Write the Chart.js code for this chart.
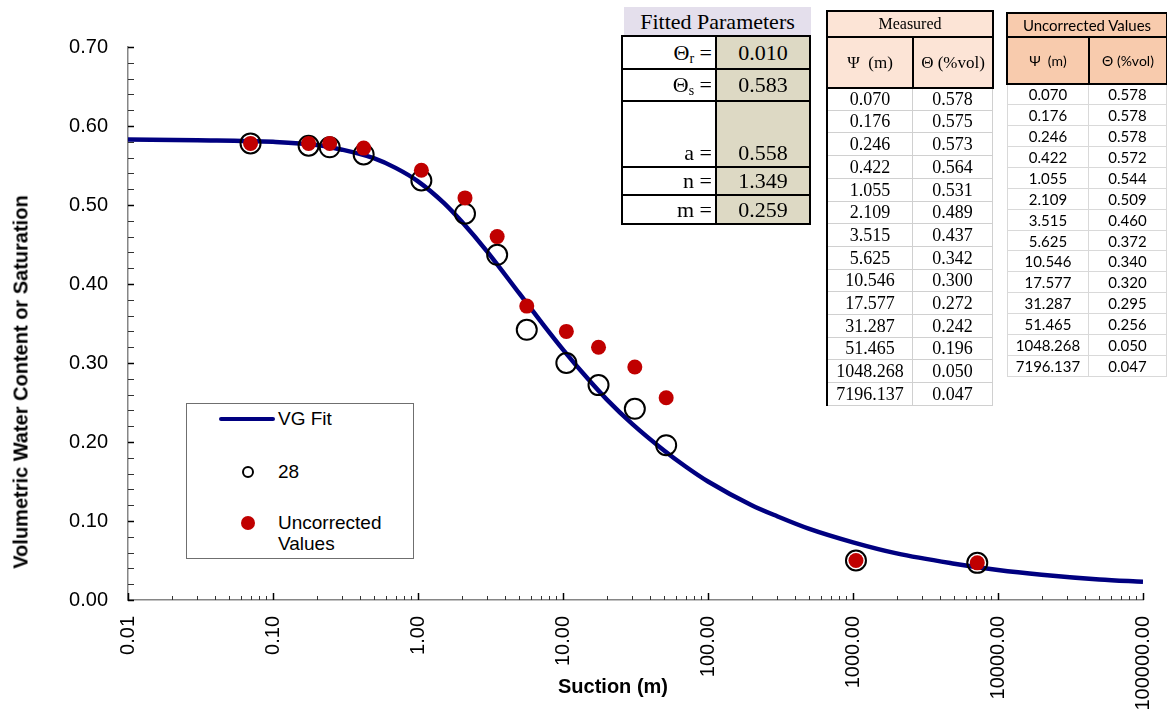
<!DOCTYPE html>
<html>
<head>
<meta charset="utf-8">
<script src="https://cdn.jsdelivr.net/npm/chart.js@4.4.1/dist/chart.umd.min.js"></script>
<style>
  html, body { margin: 0; padding: 0; background: #fff; }
  #wrap { position: relative; width: 1167px; height: 713px; overflow: hidden; }
  #chart { position: absolute; left: 0; top: 0; }
  .ttl { position: absolute; font: bold 20px "Liberation Sans", Arial, sans-serif; color: #000; white-space: nowrap; }
  #yTitle { left: 21px; top: 382px; transform: translate(-50%, -50%) rotate(-90deg); }
  #xTitle { left: 613px; top: 686px; transform: translate(-50%, -50%); }
  #legend { position: absolute; left: 186px; top: 403px; width: 228px; height: 156px; border: 1px solid #6f6f6f;
            background: #fff; box-sizing: border-box; font: 19px "Liberation Sans", Arial, sans-serif; color: #000; }
  #legend .txt { position: absolute; left: 91px; transform: translateY(-50%); line-height: 20px; white-space: nowrap; }
  .cell { position: absolute; box-sizing: border-box; display: flex; align-items: center; justify-content: center;
          white-space: nowrap; color: #000; overflow: hidden; }
  .cell sub { font-size: 14px; vertical-align: -3px; line-height: 0; }
</style>
</head>
<body>
<div id="wrap">
  <canvas id="chart" width="1167" height="713"></canvas>
  <div id="yTitle" class="ttl">Volumetric Water Content or Saturation</div>
  <div id="xTitle" class="ttl">Suction (m)</div>
  <div id="legend">
    <div style="position:absolute;left:32px;top:13px;width:56px;height:4px;border-radius:2px;background:#000080"></div>
    <div class="txt" style="top:15px">VG Fit</div>
    <div style="position:absolute;left:55px;top:62px;width:12px;height:12px;border:2px solid #000;border-radius:50%;box-sizing:border-box"></div>
    <div class="txt" style="top:68px">28</div>
    <div style="position:absolute;left:54px;top:112px;width:14px;height:14px;border-radius:50%;background:#c00000"></div>
    <div class="txt" style="top:119px">Uncorrected</div>
    <div class="txt" style="top:140px">Values</div>
  </div>
</div>
<script>
// suction (m) of the measured points
const suction = [0.070, 0.176, 0.246, 0.422, 1.055, 2.109, 3.515, 5.625, 10.546, 17.577, 31.287, 51.465, 1048.268, 7196.137];
// measured water content (series "28")
const measuredTheta = [0.578, 0.575, 0.573, 0.564, 0.531, 0.489, 0.437, 0.342, 0.300, 0.272, 0.242, 0.196, 0.050, 0.047];
// uncorrected water content
const uncorrectedTheta = [0.578, 0.578, 0.578, 0.572, 0.544, 0.509, 0.460, 0.372, 0.340, 0.320, 0.295, 0.256, 0.050, 0.047];

// VG fit curve
const fitSuction = [0.01, 0.03, 0.1, 0.2, 0.3, 0.5, 0.7, 1, 1.5, 2, 3, 5, 7, 10, 15, 20, 30, 50, 70, 100,
                    200, 300, 500, 1000, 2000, 5000, 10000, 20000, 50000, 100000];
const fitTheta = [0.583, 0.582, 0.580, 0.576, 0.570, 0.559, 0.547, 0.530, 0.503, 0.479, 0.441, 0.388, 0.353, 0.317,
                  0.279, 0.254, 0.223, 0.189, 0.169, 0.150, 0.120, 0.106, 0.090, 0.073, 0.059, 0.046, 0.038, 0.032,
                  0.026, 0.023];

// fitted parameter block
const paramLabels = ['Θ<sub>r</sub> =', 'Θ<sub>s</sub> =', 'a =', 'n =', 'm ='];
const paramValues = ['0.010', '0.583', '0.558', '1.349', '0.259'];

// axis ranges
const xDecades = [0.01, 0.1, 1, 10, 100, 1000, 10000, 100000];
const yMin = 0, yMax = 0.7, yMinorStep = 0.02;

const wrap = document.getElementById('wrap');

function addCell(x, y, w, h, html, css) {
  const d = document.createElement('div');
  d.className = 'cell';
  d.style.left = x + 'px';
  d.style.top = y + 'px';
  d.style.width = w + 'px';
  d.style.height = h + 'px';
  d.innerHTML = '<span>' + html + '</span>';
  Object.assign(d.style, css || {});
  wrap.appendChild(d);
  return d;
}

// ---- Fitted Parameters block ----
const serif = '"Liberation Serif", "Times New Roman", serif';
addCell(624, 7, 187, 29, 'Fitted Parameters', { background: '#e4dfec', font: '22px ' + serif });
const pRows = [35, 68, 100, 166, 194, 223];
for (let i = 0; i < paramLabels.length; i++) {
  const y0 = pRows[i], h = pRows[i + 1] - y0 + 2;
  addCell(621, y0, 96, h, paramLabels[i], {
    border: '2px solid #000', background: '#fff', font: '22px ' + serif,
    justifyContent: 'flex-end', paddingRight: '3px',
    alignItems: i === 2 ? 'flex-end' : 'center'
  });
  addCell(715, y0, 96, h, paramValues[i], {
    border: '2px solid #000', background: '#ddd9c4', font: '22px ' + serif,
    alignItems: i === 2 ? 'flex-end' : 'center'
  });
}

// ---- Measured table ----
const mRowTop = 87, mRowH = 22.7;
for (let i = 0; i < suction.length; i++) {
  const y0 = Math.round(mRowTop + i * mRowH);
  const h = Math.round(mRowTop + (i + 1) * mRowH) - y0 + 1;
  addCell(827, y0, 86, h, suction[i].toFixed(3), { border: '1px solid #d0d0d0', font: '18px ' + serif });
  addCell(912, y0, 81, h, measuredTheta[i].toFixed(3), { border: '1px solid #d0d0d0', font: '18px ' + serif });
}
addCell(826, mRowTop, 2, Math.round(mRowH * suction.length) + 1, '', { background: '#000' });
addCell(826, 10, 168, 28, 'Measured', { border: '2px solid #000', background: '#fce4d6', font: '16px ' + serif });
addCell(826, 36, 88, 53, 'Ψ&nbsp;&nbsp;(m)', { border: '2px solid #000', background: '#fce4d6', font: '17px ' + serif });
addCell(912, 36, 82, 53, 'Θ (%vol)', { border: '2px solid #000', background: '#fce4d6', font: '17px ' + serif });

// ---- Uncorrected Values table ----
const sans = 'Lato, "Open Sans", "DejaVu Sans", sans-serif';
const uRowTop = 83, uRowH = 20.93;
for (let i = 0; i < suction.length; i++) {
  const y0 = Math.round(uRowTop + i * uRowH);
  const h = Math.round(uRowTop + (i + 1) * uRowH) - y0 + 1;
  addCell(1007, y0, 82, h, suction[i].toFixed(3), { border: '1px solid #d9d9d9', font: '15px ' + sans });
  addCell(1088, y0, 79, h, uncorrectedTheta[i].toFixed(3), { border: '1px solid #d9d9d9', font: '15px ' + sans });
}
addCell(1006, 12, 162, 26, 'Uncorrected Values', { border: '2px solid #000', background: '#f8cbad', font: '15px ' + sans });
addCell(1006, 36, 84, 49, 'Ψ&nbsp;&nbsp;(m)', { border: '2px solid #000', background: '#f8cbad', font: '14px ' + sans });
addCell(1088, 36, 80, 49, 'Θ (%vol)', { border: '2px solid #000', background: '#f8cbad', font: '14px ' + sans });

// ---- chart ----
function isDecade(v) {
  const e = Math.log10(v);
  return Math.abs(e - Math.round(e)) < 1e-9;
}
function isTenth(v) {
  return Math.abs(v * 10 - Math.round(v * 10)) < 1e-6;
}

// tick marks pointing into the plot area
const innerTicks = {
  id: 'innerTicks',
  afterDraw(chart) {
    const { ctx, chartArea, scales } = chart;
    const x = scales.x, y = scales.y;
    ctx.save();
    x.ticks.forEach(t => {
      const px = Math.round(x.getPixelForValue(t.value)) + 0.5;
      const major = isDecade(t.value);
      ctx.strokeStyle = major ? '#000' : '#333';
      ctx.lineWidth = major ? 1.5 : 1;
      ctx.beginPath();
      ctx.moveTo(px, chartArea.bottom);
      ctx.lineTo(px, chartArea.bottom - (major ? 7 : 4));
      ctx.stroke();
    });
    y.ticks.forEach(t => {
      const py = Math.round(y.getPixelForValue(t.value)) + 0.5;
      const major = isTenth(t.value);
      ctx.strokeStyle = major ? '#000' : '#333';
      ctx.lineWidth = major ? 1.5 : 1;
      ctx.beginPath();
      ctx.moveTo(chartArea.left, py);
      ctx.lineTo(chartArea.left + 6, py);
      ctx.stroke();
    });
    ctx.restore();
  }
};

const axisFont = { family: '"Liberation Sans", Arial, sans-serif', size: 20 };

new Chart(document.getElementById('chart'), {
  type: 'scatter',
  data: {
    datasets: [
      {
        label: 'Uncorrected Values',
        data: suction.map((s, i) => ({ x: s, y: uncorrectedTheta[i] })),
        pointRadius: 7.5,
        pointBackgroundColor: '#c00000',
        pointBorderWidth: 0,
        showLine: false,
        order: 1
      },
      {
        label: '28',
        data: suction.map((s, i) => ({ x: s, y: measuredTheta[i] })),
        pointRadius: 10,
        pointBackgroundColor: 'rgba(0,0,0,0)',
        pointBorderColor: '#000',
        pointBorderWidth: 2,
        showLine: false,
        order: 2
      },
      {
        label: 'VG Fit',
        data: fitSuction.map((s, i) => ({ x: s, y: fitTheta[i] })),
        showLine: true,
        borderColor: '#000080',
        borderWidth: 4.5,
        pointRadius: 0,
        cubicInterpolationMode: 'monotone',
        order: 3
      }
    ]
  },
  options: {
    responsive: false,
    animation: false,
    events: [],
    layout: { padding: { top: 47, right: 24, left: 0, bottom: 0 } },
    plugins: { legend: { display: false }, tooltip: { enabled: false } },
    scales: {
      x: {
        type: 'logarithmic',
        min: xDecades[0],
        max: xDecades[xDecades.length - 1],
        afterBuildTicks(scale) {
          const ticks = [];
          xDecades.forEach((d, k) => {
            if (k === xDecades.length - 1) { ticks.push({ value: d }); return; }
            for (let m = 1; m <= 9; m++) ticks.push({ value: +(d * m).toPrecision(6) });
          });
          scale.ticks = ticks;
        },
        afterFit(scale) {
          scale.height = 113;
          scale.paddingLeft = 0;
          scale.paddingRight = 0;
        },
        ticks: {
          autoSkip: false,
          maxRotation: 90,
          minRotation: 90,
          padding: 16,
          color: '#000',
          font: axisFont,
          callback: v => isDecade(v) ? v.toFixed(2) : ''
        },
        grid: { drawOnChartArea: false, drawTicks: false },
        border: { display: true, color: '#868686', width: 1.5 }
      },
      y: {
        min: yMin,
        max: yMax,
        afterFit(scale) {
          scale.width = 128;
          scale.paddingTop = 0;
          scale.paddingBottom = 0;
        },
        ticks: {
          stepSize: yMinorStep,
          autoSkip: false,
          padding: 20,
          color: '#000',
          font: axisFont,
          callback: v => isTenth(v) ? v.toFixed(2) : ''
        },
        grid: { drawOnChartArea: false, drawTicks: false },
        border: { display: true, color: '#868686', width: 1.5 }
      }
    }
  },
  plugins: [innerTicks]
});
</script>
</body>
</html>
